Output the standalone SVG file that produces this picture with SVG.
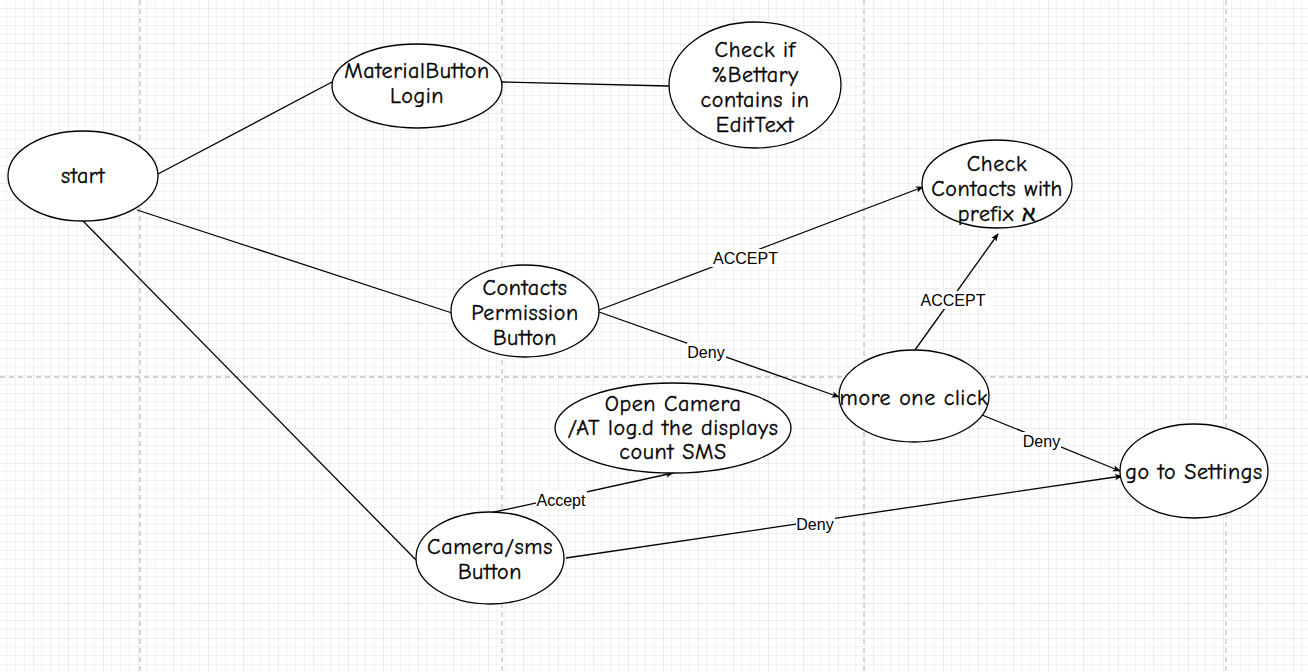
<svg xmlns="http://www.w3.org/2000/svg" width="1308" height="672" viewBox="0 0 1308 672">
<defs>
<pattern id="grid" x="33" y="8" width="35" height="35" patternUnits="userSpaceOnUse">
<path d="M8.75 0V35M17.5 0V35M26.25 0V35M0 8.75H35M0 17.5H35M0 26.25H35" stroke="#f1f1f1" stroke-width="1" fill="none"/>
<path d="M0 0V35M0 0H35" stroke="#dcdcdc" stroke-width="1" fill="none"/>
</pattern>
<marker id="arr" viewBox="0 0 10 10" refX="9" refY="5" markerWidth="8" markerHeight="8" orient="auto" markerUnits="userSpaceOnUse">
<path d="M0 1L10 5L0 9L2.5 5Z" fill="#000"/>
</marker>
<style>
.node ellipse{fill:#fff;stroke:#000;stroke-width:1.3}
.node text{font-family:"Comic Sans MS","Comic Neue","Liberation Sans",sans-serif;font-size:22px;letter-spacing:0.6px;fill:#000;stroke:#000;stroke-width:0.35;text-anchor:middle}
.edge{stroke:#000;stroke-width:1.3;fill:none}
.lbl text{font-family:"Liberation Sans",Arial,sans-serif;font-size:16px;fill:#000;text-anchor:middle}
.lbl rect{fill:#fff}
.pb{stroke:#c4c4c4;stroke-width:1.3;stroke-dasharray:5 4;fill:none}
</style>
</defs>
<rect width="1308" height="672" fill="#fff"/>
<rect width="1308" height="672" fill="url(#grid)"/>
<g id="pagebreaks">
<path class="pb" d="M140 0V672M502 0V672M864 0V672M1226 0V672M0 377H1308"/>
</g>
<g id="connectors">
<path class="edge" d="M158 174L332 82"/>
<path class="edge" d="M502 82L669 86"/>
<path class="edge" d="M137 210L452 313"/>
<path class="edge" d="M83 221L416 560"/>
<path class="edge" d="M599 310L923 187" marker-end="url(#arr)"/>
<path class="edge" d="M599 312L839 397" marker-end="url(#arr)"/>
<path class="edge" d="M915 350L998 234" marker-end="url(#arr)"/>
<path class="edge" d="M982 415L1120 471" marker-end="url(#arr)"/>
<path class="edge" d="M490 513L673 473" marker-end="url(#arr)"/>
<path class="edge" d="M566 558L1122 476" marker-end="url(#arr)"/>
<g class="lbl">
<rect x="711" y="249" width="69" height="18"/><text x="745.5" y="264">ACCEPT</text>
<rect x="919" y="291" width="69" height="18"/><text x="953" y="306">ACCEPT</text>
<rect x="687" y="343" width="39" height="18"/><text x="706" y="358">Deny</text>
<rect x="1022" y="432" width="39" height="18"/><text x="1041.5" y="447">Deny</text>
<rect x="536" y="491" width="51" height="18"/><text x="561" y="505.5">Accept</text>
<rect x="796" y="515" width="39" height="18"/><text x="815" y="530">Deny</text>
</g>
</g>
<g id="start" class="node"><ellipse cx="83" cy="176" rx="75" ry="45"/><text x="83" y="183">start</text></g>
<g id="materialbutton" class="node"><ellipse cx="417" cy="86" rx="85" ry="42"/><text x="417" y="78">MaterialButton</text><text x="417" y="103">Login</text></g>
<g id="checkbattery" class="node"><ellipse cx="755" cy="85" rx="86" ry="63"/><text x="755" y="57">Check if</text><text x="755" y="82">%Bettary</text><text x="755" y="107">contains in</text><text x="755" y="132">EditText</text></g>
<g id="checkcontacts" class="node"><ellipse cx="997" cy="184" rx="75" ry="44"/><text x="997" y="171">Check</text><text x="997" y="196">Contacts with</text><text x="997" y="221">prefix א</text></g>
<g id="contactsperm" class="node"><ellipse cx="525" cy="311" rx="74" ry="46"/><text x="525" y="295">Contacts</text><text x="525" y="320">Permission</text><text x="525" y="345">Button</text></g>
<g id="moreclick" class="node"><ellipse cx="914" cy="396" rx="75" ry="46"/><text x="914" y="405">more one click</text></g>
<g id="opencamera" class="node"><ellipse cx="673" cy="428" rx="118" ry="45"/><text x="673" y="411">Open Camera</text><text x="673" y="435">/AT log.d the displays</text><text x="673" y="459">count SMS</text></g>
<g id="camerasms" class="node"><ellipse cx="490" cy="558" rx="74" ry="46"/><text x="490" y="554">Camera/sms</text><text x="490" y="579">Button</text></g>
<g id="settings" class="node"><ellipse cx="1194" cy="471" rx="74" ry="47"/><text x="1194" y="479">go to Settings</text></g>
</svg>
